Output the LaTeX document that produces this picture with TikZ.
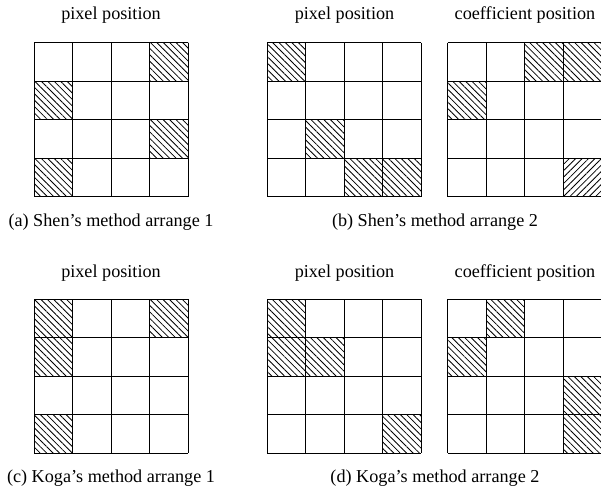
\documentclass[tikz,border=0pt]{standalone}
\usepackage{fontspec}
\setmainfont{Liberation Serif}
\usetikzlibrary{patterns.meta}
\tikzset{
  nwhatch/.style={pattern={Lines[angle=-45,distance=2.5pt,line width=0.45pt]}},
  nehatch/.style={pattern={Lines[angle=45,distance=2.5pt,line width=0.45pt]}},
  gridline/.style={line width=0.6pt},
  lbl/.style={font=\fontsize{10}{12}\selectfont, inner sep=0pt, anchor=center},
}
% #1 x left, #2 y top, #3 name
\newcommand{\mygrid}[3]{%
  \foreach \i in {0,...,4} {
    \draw[gridline] (#1+\i*38.5,#2) -- (#1+\i*38.5,#2-154);
    \draw[gridline] (#1,#2-\i*38.5) -- (#1+154,#2-\i*38.5);
  }
  \coordinate (#3) at (#1+77,#2-77);
}
\begin{document}
\begin{tikzpicture}[x=0.55pt,y=0.55pt]
\useasboundingbox (0,0) rectangle (601,490);
% ---------- hatched cells ----------
% Grid A
\foreach \c/\r in {3/0,0/1,3/2,0/3}
  \fill[nwhatch] (34.3+\c*38.5,447.3-\r*38.5) rectangle ++(38.5,-38.5);
% Grid B
\foreach \c/\r in {0/0,1/2,2/3,3/3}
  \fill[nwhatch] (267.3+\c*38.5,447.3-\r*38.5) rectangle ++(38.5,-38.5);
% Grid C
\foreach \c/\r in {2/0,3/0,0/1}
  \fill[nwhatch] (447.8+\c*38.5,447.3-\r*38.5) rectangle ++(38.5,-38.5);
\fill[nehatch] (447.8+3*38.5,447.3-3*38.5) rectangle ++(38.5,-38.5);
% Grid D
\foreach \c/\r in {0/0,3/0,0/1,0/3}
  \fill[nwhatch] (34.3+\c*38.5,190.7-\r*38.5) rectangle ++(38.5,-38.5);
% Grid E
\foreach \c/\r in {0/0,0/1,1/1,3/3}
  \fill[nwhatch] (267.3+\c*38.5,190.7-\r*38.5) rectangle ++(38.5,-38.5);
% Grid F
\foreach \c/\r in {1/0,0/1,3/2,3/3}
  \fill[nwhatch] (447.8+\c*38.5,190.7-\r*38.5) rectangle ++(38.5,-38.5);
% ---------- grids ----------
\mygrid{34.3}{447.3}{gA}
\mygrid{267.3}{447.3}{gB}
\mygrid{447.8}{447.3}{gC}
\mygrid{34.3}{190.7}{gD}
\mygrid{267.3}{190.7}{gE}
\mygrid{447.8}{190.7}{gF}
% ---------- labels ----------
\node[lbl] (tA) at (111,475) {pixel position};
\node[lbl] (tB) at (344.5,475) {pixel position};
\node[lbl] (tC) at (525,475) {coefficient position};
\node[lbl] (capA) at (111,268) {(a) Shen's method arrange 1};
\node[lbl] (capB) at (435,268) {(b) Shen's method arrange 2};
\node[lbl] (tD) at (111,217) {pixel position};
\node[lbl] (tE) at (344.5,217) {pixel position};
\node[lbl] (tF) at (525,217) {coefficient position};
\node[lbl] (capD) at (111,12) {(c) Koga's method arrange 1};
\node[lbl] (capE) at (435,12) {(d) Koga's method arrange 2};
\end{tikzpicture}
\end{document}
